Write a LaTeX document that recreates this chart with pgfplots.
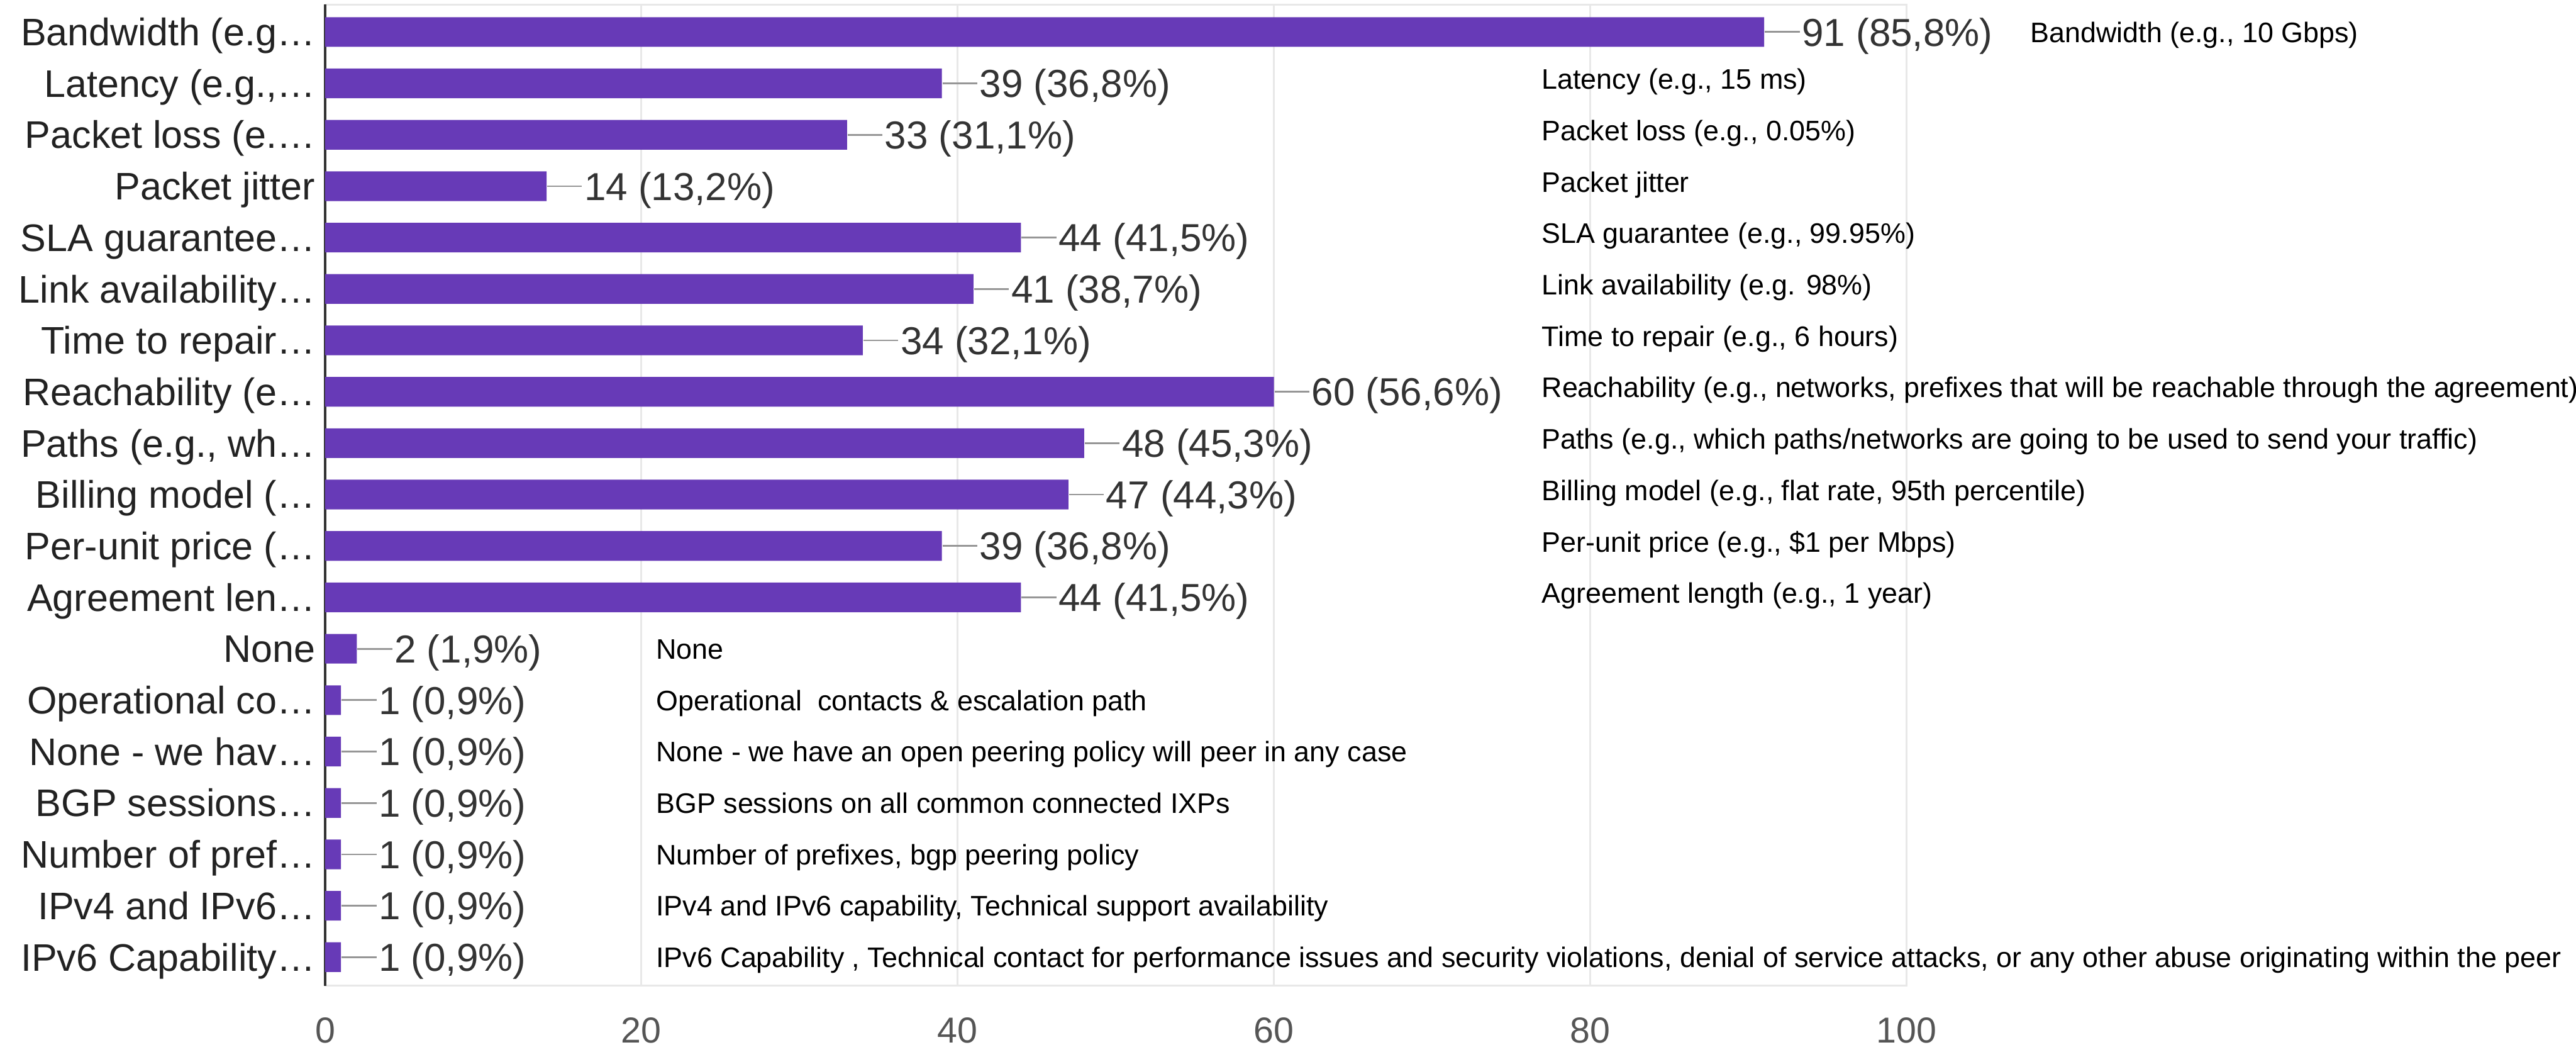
\documentclass[border=0pt]{standalone}
\usepackage{fontspec}
\setmainfont{Liberation Sans}
\usepackage{pgfplots}
\pgfplotsset{compat=1.18}
\definecolor{barc}{RGB}{103,58,183}
\definecolor{ticktxt}{RGB}{85,85,85}
\definecolor{lbl}{RGB}{34,34,34}
\definecolor{vlbl}{RGB}{51,51,51}
\definecolor{lead}{RGB}{150,150,150}
\definecolor{gridc}{RGB}{232,232,232}
\begin{document}
\begin{tikzpicture}
\begin{axis}[
  at={(0,0)}, anchor=south west,
  scale only axis, width=543.8pt, height=337.2pt,
  xbar, bar width=10.2pt, bar shift=0pt,
  xmin=0, xmax=100, ymin=-0.532, ymax=18.555, y dir=reverse,
  xtick={0,20,...,100}, ytick={0,...,18},
  yticklabels={{Bandwidth (e.g…},{Latency (e.g.,…},{Packet loss (e.…},{Packet jitter},{SLA guarantee…},{Link availability…},{Time to repair…},{Reachability (e…},{Paths (e.g., wh…},{Billing model (…},{Per-unit price (…},{Agreement len…},{None},{Operational co…},{None - we hav…},{BGP sessions…},{Number of pref…},{IPv4 and IPv6…},{IPv6 Capability…}},
  major tick length=0pt,
  xmajorgrids, major grid style={draw=gridc, line width=0.6pt},
  axis line style={draw=gridc, line width=0.6pt},
  extra x ticks={0}, extra x tick labels={},
  extra x tick style={major grid style={draw=black!80, line width=0.8pt}},
  /pgf/number format/assume math mode=true,
  xticklabel style={anchor=center, yshift=-15.4pt, inner sep=0pt, text=ticktxt, font=\fontsize{12.4}{14}\selectfont},
  yticklabel style={anchor=base east, inner sep=0pt, xshift=-3.2pt, yshift=-4.7pt, text=lbl, font=\fontsize{13.2}{15}\selectfont},
  point meta=explicit symbolic,
  nodes near coords={\textcolor{lead}{\rule[4.5pt]{12pt}{0.6pt}}\hspace{0.8pt}\textcolor{vlbl}{\pgfplotspointmeta}},
  every node near coord/.append style={anchor=base west, inner sep=0pt, yshift=-4.8pt, font=\fontsize{13.4}{15}\selectfont},
  clip=false,
]
\addplot[fill=barc, draw=none] coordinates {
  (91,0) [91 (85,8\%)]
  (39,1) [39 (36,8\%)]
  (33,2) [33 (31,1\%)]
  (14,3) [14 (13,2\%)]
  (44,4) [44 (41,5\%)]
  (41,5) [41 (38,7\%)]
  (34,6) [34 (32,1\%)]
  (60,7) [60 (56,6\%)]
  (48,8) [48 (45,3\%)]
  (47,9) [47 (44,3\%)]
  (39,10) [39 (36,8\%)]
  (44,11) [44 (41,5\%)]
  (2,12) [2 (1,9\%)]
  (1,13) [1 (0,9\%)]
  (1,14) [1 (0,9\%)]
  (1,15) [1 (0,9\%)]
  (1,16) [1 (0,9\%)]
  (1,17) [1 (0,9\%)]
  (1,18) [1 (0,9\%)]
};
\begin{scope}[every node/.style={anchor=base west, inner sep=0pt, font=\fontsize{9.7}{11}\selectfont, text=black}]
\node[yshift=-3.5pt] at (axis cs:107.8,0) {Bandwidth (e.g., 10 Gbps)};
\node[yshift=-2pt] at (axis cs:76.9,1) {Latency (e.g., 15 ms)};
\node[yshift=-2pt] at (axis cs:76.9,2) {Packet loss (e.g., 0.05\%)};
\node[yshift=-2pt] at (axis cs:76.9,3) {Packet jitter};
\node[yshift=-2pt] at (axis cs:76.9,4) {SLA guarantee (e.g., 99.95\%)};
\node[yshift=-2pt] at (axis cs:76.9,5) {Link availability (e.g. 98\%)};
\node[yshift=-2pt] at (axis cs:76.9,6) {Time to repair (e.g., 6 hours)};
\node[yshift=-2pt] at (axis cs:76.9,7) {Reachability (e.g., networks, prefixes that will be reachable through the agreement)};
\node[yshift=-2pt] at (axis cs:76.9,8) {Paths (e.g., which paths/networks are going to be used to send your traffic)};
\node[yshift=-2pt] at (axis cs:76.9,9) {Billing model (e.g., flat rate, 95th percentile)};
\node[yshift=-2pt] at (axis cs:76.9,10) {Per-unit price (e.g., \$1 per Mbps)};
\node[yshift=-2pt] at (axis cs:76.9,11) {Agreement length (e.g., 1 year)};
\node[yshift=-3.5pt] at (axis cs:20.9,12) {None};
\node[yshift=-3.5pt] at (axis cs:20.9,13) {Operational\ \ contacts \& escalation path};
\node[yshift=-3.5pt] at (axis cs:20.9,14) {None - we have an open peering policy will peer in any case};
\node[yshift=-3.5pt] at (axis cs:20.9,15) {BGP sessions on all common connected IXPs};
\node[yshift=-3.5pt] at (axis cs:20.9,16) {Number of prefixes, bgp peering policy};
\node[yshift=-3.5pt] at (axis cs:20.9,17) {IPv4 and IPv6 capability, Technical support availability};
\node[yshift=-3.5pt] at (axis cs:20.9,18) {IPv6 Capability , Technical contact for performance issues and security violations, denial of service attacks, or any other abuse originating within the peer};
\end{scope}
\end{axis}
\pgfresetboundingbox
\path (-111.8pt,-24.4pt) rectangle (774pt,338.8pt);
\end{tikzpicture}
\end{document}
